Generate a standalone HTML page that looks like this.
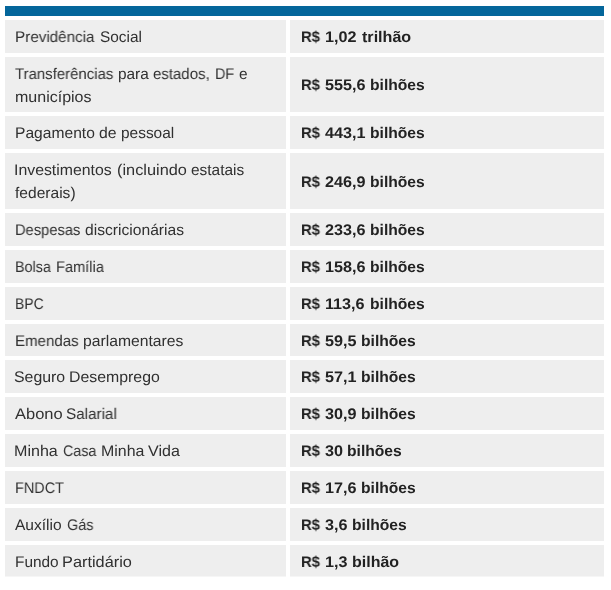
<!DOCTYPE html>
<html><head><meta charset="utf-8">
<style>
html,body{margin:0;padding:0;background:#fff;}
body{width:611px;height:590px;overflow:hidden;position:relative;font-family:"Liberation Sans",sans-serif;}
.bar{position:absolute;left:5px;top:6px;width:599px;height:10px;background:#04669b;}
.c{position:absolute;background:#eeeeee;}
.l{left:5px;width:281px;}
.r{left:290px;width:314px;}
.t{position:absolute;white-space:nowrap;text-rendering:geometricPrecision;will-change:transform;transform-origin:0 50%;font-size:15.4px;line-height:23px;height:23px;color:#303030;}
.b{font-weight:bold;color:#222222;}
</style></head><body>
<div class="bar"></div>
<div class="c l" style="top:20px;height:33px"></div><div class="c r" style="top:20px;height:33px"></div>
<div class="c l" style="top:57px;height:55px"></div><div class="c r" style="top:57px;height:55px"></div>
<div class="c l" style="top:116px;height:33px"></div><div class="c r" style="top:116px;height:33px"></div>
<div class="c l" style="top:153px;height:56px"></div><div class="c r" style="top:153px;height:56px"></div>
<div class="c l" style="top:213px;height:33px"></div><div class="c r" style="top:213px;height:33px"></div>
<div class="c l" style="top:250px;height:33px"></div><div class="c r" style="top:250px;height:33px"></div>
<div class="c l" style="top:287px;height:33px"></div><div class="c r" style="top:287px;height:33px"></div>
<div class="c l" style="top:324px;height:32px"></div><div class="c r" style="top:324px;height:32px"></div>
<div class="c l" style="top:360px;height:33px"></div><div class="c r" style="top:360px;height:33px"></div>
<div class="c l" style="top:397px;height:33px"></div><div class="c r" style="top:397px;height:33px"></div>
<div class="c l" style="top:434px;height:33px"></div><div class="c r" style="top:434px;height:33px"></div>
<div class="c l" style="top:471px;height:33px"></div><div class="c r" style="top:471px;height:33px"></div>
<div class="c l" style="top:508px;height:33px"></div><div class="c r" style="top:508px;height:33px"></div>
<div class="c l" style="top:545px;height:31px"></div><div class="c r" style="top:545px;height:31px"></div>
<div class="c l" style="top:576px;height:1px;background:#f6f6f6"></div><div class="c r" style="top:576px;height:1px;background:#f6f6f6"></div>
<div class="t" style="left:14.53px;top:26px;transform:scaleX(0.9891)">Previdência</div>
<div class="t" style="left:99.63px;top:26px;transform:scaleX(0.9894)">Social</div>
<div class="t" style="left:15.07px;top:63px;transform:scaleX(0.9717)">Transferências</div>
<div class="t" style="left:118.21px;top:63px;transform:scaleX(0.9907)">para</div>
<div class="t" style="left:153.30px;top:63px;transform:scaleX(0.9737)">estados,</div>
<div class="t" style="left:215.40px;top:63px;transform:scaleX(0.9382)">DF</div>
<div class="t" style="left:239.20px;top:63px;transform:scaleX(0.9707)">e</div>
<div class="t" style="left:14.66px;top:86px;transform:scaleX(1.0402)">municípios</div>
<div class="t" style="left:14.50px;top:122px;transform:scaleX(1.0141)">Pagamento</div>
<div class="t" style="left:99.09px;top:122px;transform:scaleX(1.0253)">de</div>
<div class="t" style="left:120.90px;top:122px;transform:scaleX(1.0032)">pessoal</div>
<div class="t" style="left:14.43px;top:159px;transform:scaleX(1.0292)">Investimentos</div>
<div class="t" style="left:116.84px;top:159px;transform:scaleX(1.0608)">(incluindo</div>
<div class="t" style="left:191.38px;top:159px;transform:scaleX(1.0019)">estatais</div>
<div class="t" style="left:14.94px;top:182px;transform:scaleX(1.0116)">federais)</div>
<div class="t" style="left:14.58px;top:219px;transform:scaleX(0.9545)">Despesas</div>
<div class="t" style="left:84.70px;top:219px;transform:scaleX(1.0154)">discricionárias</div>
<div class="t" style="left:14.71px;top:256px;transform:scaleX(0.9316)">Bolsa</div>
<div class="t" style="left:56.35px;top:256px;transform:scaleX(0.9489)">Família</div>
<div class="t" style="left:14.64px;top:293px;transform:scaleX(0.9076)">BPC</div>
<div class="t" style="left:14.65px;top:330px;transform:scaleX(0.9788)">Emendas</div>
<div class="t" style="left:82.68px;top:330px;transform:scaleX(1.0205)">parlamentares</div>
<div class="t" style="left:14.40px;top:366px;transform:scaleX(1.0313)">Seguro</div>
<div class="t" style="left:69.48px;top:366px;transform:scaleX(1.0306)">Desemprego</div>
<div class="t" style="left:14.63px;top:403px;transform:scaleX(1.0707)">Abono</div>
<div class="t" style="left:66.14px;top:403px;transform:scaleX(0.9892)">Salarial</div>
<div class="t" style="left:14.47px;top:440px;transform:scaleX(1.0444)">Minha</div>
<div class="t" style="left:62.93px;top:440px;transform:scaleX(0.9298)">Casa</div>
<div class="t" style="left:100.79px;top:440px;transform:scaleX(1.0345)">Minha</div>
<div class="t" style="left:148.40px;top:440px;transform:scaleX(1.0451)">Vida</div>
<div class="t" style="left:14.67px;top:477px;transform:scaleX(0.9373)">FNDCT</div>
<div class="t" style="left:14.74px;top:514px;transform:scaleX(1.0104)">Auxílio</div>
<div class="t" style="left:66.52px;top:514px;transform:scaleX(0.9384)">Gás</div>
<div class="t" style="left:14.60px;top:551px;transform:scaleX(0.9937)">Fundo</div>
<div class="t" style="left:61.84px;top:551px;transform:scaleX(1.0608)">Partidário</div>
<div class="t b" style="left:300.79px;top:26px;transform:scaleX(0.9656)">R$</div>
<div class="t b" style="left:325.20px;top:26px;transform:scaleX(1.0520)">1,02</div>
<div class="t b" style="left:361.58px;top:26px;transform:scaleX(1.0462)">trilhão</div>
<div class="t b" style="left:300.79px;top:74px;transform:scaleX(0.9656)">R$</div>
<div class="t b" style="left:325.20px;top:74px;transform:scaleX(1.0520)">555,6</div>
<div class="t b" style="left:370.22px;top:74px;transform:scaleX(1.0161)">bilhões</div>
<div class="t b" style="left:300.79px;top:122px;transform:scaleX(0.9656)">R$</div>
<div class="t b" style="left:325.20px;top:122px;transform:scaleX(1.0520)">443,1</div>
<div class="t b" style="left:370.22px;top:122px;transform:scaleX(1.0161)">bilhões</div>
<div class="t b" style="left:300.79px;top:171px;transform:scaleX(0.9656)">R$</div>
<div class="t b" style="left:325.20px;top:171px;transform:scaleX(1.0520)">246,9</div>
<div class="t b" style="left:370.22px;top:171px;transform:scaleX(1.0161)">bilhões</div>
<div class="t b" style="left:300.79px;top:219px;transform:scaleX(0.9656)">R$</div>
<div class="t b" style="left:325.20px;top:219px;transform:scaleX(1.0520)">233,6</div>
<div class="t b" style="left:370.22px;top:219px;transform:scaleX(1.0161)">bilhões</div>
<div class="t b" style="left:300.79px;top:256px;transform:scaleX(0.9656)">R$</div>
<div class="t b" style="left:325.20px;top:256px;transform:scaleX(1.0520)">158,6</div>
<div class="t b" style="left:370.22px;top:256px;transform:scaleX(1.0161)">bilhões</div>
<div class="t b" style="left:300.79px;top:293px;transform:scaleX(0.9656)">R$</div>
<div class="t b" style="left:325.20px;top:293px;transform:scaleX(1.0520)">113,6</div>
<div class="t b" style="left:370.22px;top:293px;transform:scaleX(1.0161)">bilhões</div>
<div class="t b" style="left:300.79px;top:330px;transform:scaleX(0.9656)">R$</div>
<div class="t b" style="left:325.20px;top:330px;transform:scaleX(1.0520)">59,5</div>
<div class="t b" style="left:361.02px;top:330px;transform:scaleX(1.0161)">bilhões</div>
<div class="t b" style="left:300.79px;top:366px;transform:scaleX(0.9656)">R$</div>
<div class="t b" style="left:325.20px;top:366px;transform:scaleX(1.0520)">57,1</div>
<div class="t b" style="left:361.02px;top:366px;transform:scaleX(1.0161)">bilhões</div>
<div class="t b" style="left:300.79px;top:403px;transform:scaleX(0.9656)">R$</div>
<div class="t b" style="left:325.20px;top:403px;transform:scaleX(1.0520)">30,9</div>
<div class="t b" style="left:361.02px;top:403px;transform:scaleX(1.0161)">bilhões</div>
<div class="t b" style="left:300.79px;top:440px;transform:scaleX(0.9656)">R$</div>
<div class="t b" style="left:325.20px;top:440px;transform:scaleX(1.0520)">30</div>
<div class="t b" style="left:347.42px;top:440px;transform:scaleX(1.0161)">bilhões</div>
<div class="t b" style="left:300.79px;top:477px;transform:scaleX(0.9656)">R$</div>
<div class="t b" style="left:325.20px;top:477px;transform:scaleX(1.0520)">17,6</div>
<div class="t b" style="left:361.02px;top:477px;transform:scaleX(1.0161)">bilhões</div>
<div class="t b" style="left:300.79px;top:514px;transform:scaleX(0.9656)">R$</div>
<div class="t b" style="left:325.20px;top:514px;transform:scaleX(1.0520)">3,6</div>
<div class="t b" style="left:351.62px;top:514px;transform:scaleX(1.0161)">bilhões</div>
<div class="t b" style="left:300.79px;top:551px;transform:scaleX(0.9656)">R$</div>
<div class="t b" style="left:325.20px;top:551px;transform:scaleX(1.0520)">1,3</div>
<div class="t b" style="left:351.69px;top:551px;transform:scaleX(1.0380)">bilhão</div>
</body></html>
